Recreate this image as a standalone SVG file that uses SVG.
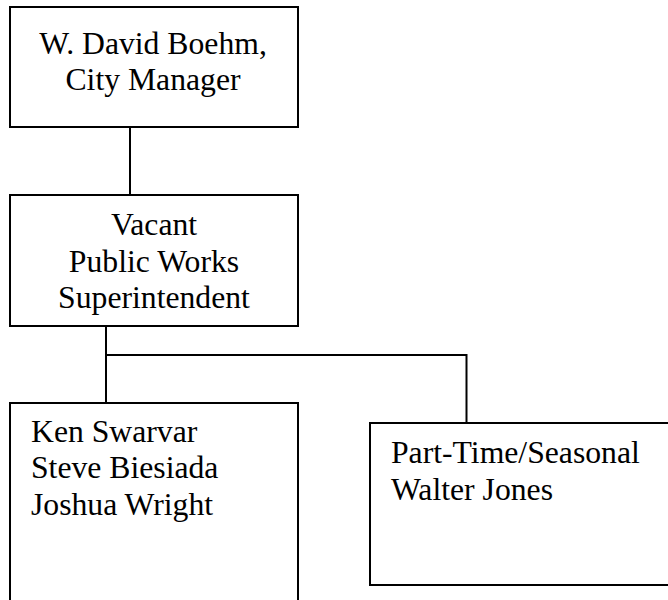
<svg xmlns="http://www.w3.org/2000/svg" width="668" height="600" viewBox="0 0 668 600">
<style>
.box{fill:#fff;stroke:#000;stroke-width:2}
.ln{stroke:#000;stroke-width:2;fill:none}
text{font-family:"Liberation Serif","Times New Roman",serif;font-size:31.7px;fill:#000}
.c{text-anchor:middle}
</style>
<rect width="668" height="600" fill="#fff"/>
<g id="connectors">
<line class="ln" x1="130" y1="127" x2="130" y2="195"/>
<line class="ln" x1="106" y1="326" x2="106" y2="403"/>
<line class="ln" x1="105" y1="355" x2="467" y2="355"/>
<line class="ln" x1="466.5" y1="354" x2="466.5" y2="423"/>
</g>
<g id="city-manager">
<rect class="box" x="10" y="7" width="288" height="120"/>
<text class="c" x="153" y="54">W. David Boehm,</text>
<text class="c" x="153" y="90">City Manager</text>
</g>
<g id="superintendent">
<rect class="box" x="10" y="195" width="288" height="131"/>
<text class="c" x="154" y="235">Vacant</text>
<text class="c" x="154" y="272">Public Works</text>
<text class="c" x="154" y="308">Superintendent</text>
</g>
<g id="staff">
<rect class="box" x="10" y="403" width="288" height="210"/>
<text x="31" y="442">Ken Swarvar</text>
<text x="31" y="478">Steve Biesiada</text>
<text x="31" y="515">Joshua Wright</text>
</g>
<g id="part-time">
<rect class="box" x="370" y="423" width="310" height="162"/>
<text x="391" y="463">Part-Time/Seasonal</text>
<text x="391" y="500">Walter Jones</text>
</g>
</svg>
